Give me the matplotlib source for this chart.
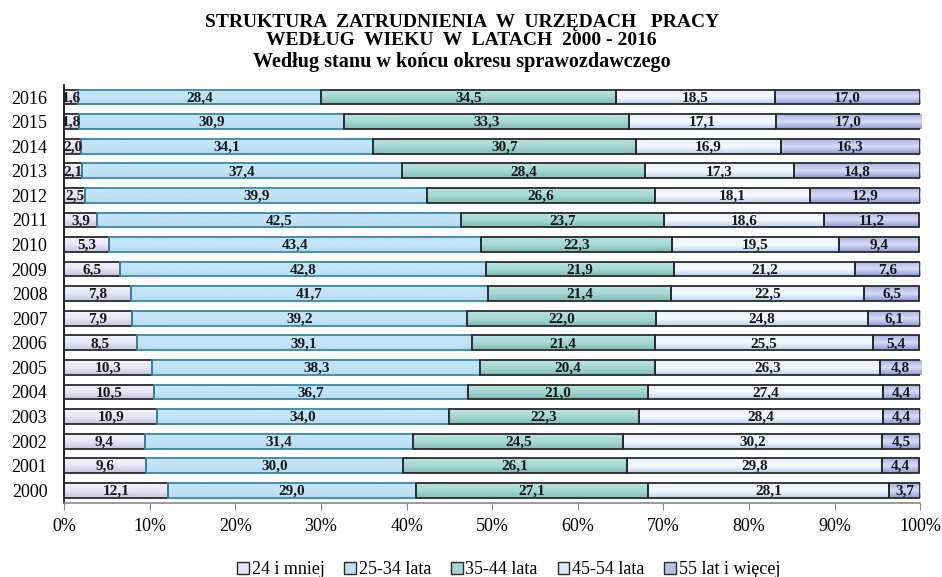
import matplotlib
matplotlib.use("Agg")
import matplotlib.pyplot as plt
import numpy as np
from matplotlib.colors import LinearSegmentedColormap
from matplotlib.patches import Patch

plt.rcParams['font.family'] = ['Liberation Serif', 'DejaVu Serif']

years = ["2000", "2001", "2002", "2003", "2004", "2005", "2006", "2007", "2008",
         "2009", "2010", "2011", "2012", "2013", "2014", "2015", "2016"]
series_names = ["24 i mniej", "25-34 lata", "35-44 lata", "45-54 lata", "55 lat i więcej"]
age_24 = [12.1, 9.6, 9.4, 10.9, 10.5, 10.3, 8.5, 7.9, 7.8, 6.5, 5.3, 3.9, 2.5, 2.1, 2.0, 1.8, 1.6]
age_25_34 = [29.0, 30.0, 31.4, 34.0, 36.7, 38.3, 39.1, 39.2, 41.7, 42.8, 43.4, 42.5, 39.9, 37.4, 34.1, 30.9, 28.4]
age_35_44 = [27.1, 26.1, 24.5, 22.3, 21.0, 20.4, 21.4, 22.0, 21.4, 21.9, 22.3, 23.7, 26.6, 28.4, 30.7, 33.3, 34.5]
age_45_54 = [28.1, 29.8, 30.2, 28.4, 27.4, 26.3, 25.5, 24.8, 22.5, 21.2, 19.5, 18.6, 18.1, 17.3, 16.9, 17.1, 18.5]
age_55 = [3.7, 4.4, 4.5, 4.4, 4.4, 4.8, 5.4, 6.1, 6.5, 7.6, 9.4, 11.2, 12.9, 14.8, 16.3, 17.0, 17.0]
xticks = [0, 10, 20, 30, 40, 50, 60, 70, 80, 90, 100]

series = [age_24, age_25_34, age_35_44, age_45_54, age_55]
# gradient (top, middle, bottom) per series
gradients = [
    ["#f4f4fc", "#e6e6f6", "#c4c4e4"],
    ["#c2e4f6", "#c2e4f6", "#b4dcf0"],
    ["#b8e4e0", "#a6d8d4", "#7fbcb8"],
    ["#e8f0fc", "#f6faff", "#b8d0f0"],
    ["#a8b4e6", "#d8dcf6", "#8c98d8"],
]
legend_colors = ["#e4e4f4", "#bfe3f5", "#a3d6d2", "#dce8f8", "#b8c0ea"]
edgecolors = ["#2a2a2a", "#3a88a8", "#2a2a2a", "#2a2a2a", "#2a2a2a"]

fig = plt.figure(figsize=(9.42, 5.77), dpi=100)
ax = fig.add_axes([0.068, 0.129, 0.909, 0.724])

y = np.arange(len(years))
h = 0.6
left = np.zeros(len(years))
for i, (vals, name) in enumerate(zip(series, series_names)):
    vals = np.array(vals)
    cmap = LinearSegmentedColormap.from_list("g%d" % i, gradients[i][::-1])
    grad = np.linspace(0, 1, 64).reshape(-1, 1)
    bars = ax.barh(y, vals, left=left, height=h, facecolor="none",
                   edgecolor=edgecolors[i], linewidth=1.3, label=name, zorder=3)
    for b in bars:
        x0, y0 = b.get_x(), b.get_y()
        im = ax.imshow(grad, cmap=cmap, aspect="auto", origin="lower",
                       extent=(x0, x0 + b.get_width(), y0, y0 + b.get_height()),
                       zorder=2, interpolation="bilinear")
        im.set_clip_path(b)
    for yy, l, v in zip(y, left, vals):
        ax.text(l + v / 2, yy - 0.03, f"{v:.1f}".replace(".", ","), ha="center", va="center",
                fontsize=11, fontweight="bold", color="#1a1a1a", zorder=4)
    left = left + vals

ax.set_xlim(0, 100)
ax.set_ylim(-0.5, len(years) - 0.5)
ax.set_yticks(y)
ax.set_yticklabels(years, fontsize=13)
ax.set_xticks(xticks)
ax.set_xticklabels([f"{t}%" for t in xticks], fontsize=13)
ax.tick_params(axis="y", length=0, pad=12)
ax.tick_params(axis="x", length=5, color="#888888", pad=6)
for s in ["top", "right"]:
    ax.spines[s].set_visible(False)
ax.spines["left"].set_color("black")
ax.spines["left"].set_linewidth(1.2)
ax.spines["bottom"].set_color("#888888")
ax.spines["bottom"].set_linewidth(1.2)

fig.text(0.49, 0.953, "STRUKTURA  ZATRUDNIENIA  W  URZĘDACH   PRACY", ha="center", va="baseline",
         fontsize=14, fontweight="bold")
fig.text(0.49, 0.922, "WEDŁUG  WIEKU  W  LATACH  2000 - 2016", ha="center", va="baseline",
         fontsize=14, fontweight="bold")
fig.text(0.49, 0.884, "Według stanu w końcu okresu sprawozdawczego", ha="center", va="baseline",
         fontsize=14.5, fontweight="bold")

handles = [Patch(facecolor=c, edgecolor="#2a2a2a", linewidth=1.0) for c in legend_colors]
fig.legend(handles, series_names, loc="lower center", bbox_to_anchor=(0.54, -0.03), ncol=5,
           frameon=False, fontsize=13, handlelength=0.65, handleheight=0.65,
           handletextpad=0.15, columnspacing=1.1)

fig.savefig("out.png", dpi=100)
